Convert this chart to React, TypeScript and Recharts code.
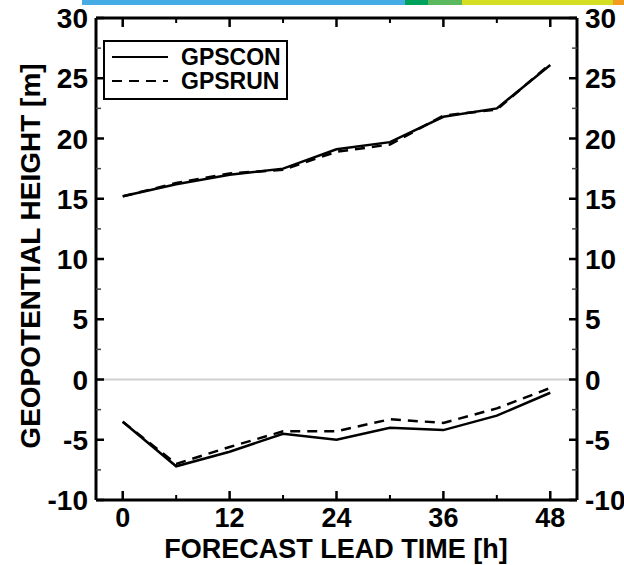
import { LineChart, Line, XAxis, YAxis, ReferenceLine } from "recharts";

const leadTimes = [0, 6, 12, 18, 24, 30, 36, 42, 48];
const gpsconUpper = [15.2, 16.2, 17.0, 17.5, 19.1, 19.7, 21.8, 22.5, 26.1];
const gpsrunUpper = [15.2, 16.3, 17.1, 17.4, 18.9, 19.5, 21.9, 22.4, 26.2];
const gpsconLower = [-3.5, -7.2, -6.0, -4.5, -5.0, -4.0, -4.2, -3.0, -1.1];
const gpsrunLower = [-3.5, -7.0, -5.6, -4.3, -4.3, -3.3, -3.6, -2.4, -0.7];
const xTicks = [0, 6, 12, 18, 24, 30, 36, 42, 48];
const yTicks = [-10, -7.5, -5, -2.5, 0, 2.5, 5, 7.5, 10, 12.5, 15, 17.5, 20, 22.5, 25, 27.5, 30];
const seriesNames = ["GPSCON", "GPSRUN"];

const data = leadTimes.map((t, i) => ({
  t,
  conUp: gpsconUpper[i],
  runUp: gpsrunUpper[i],
  conLo: gpsconLower[i],
  runLo: gpsrunLower[i],
}));

const FONT = "'Liberation Sans', Arial, Helvetica, sans-serif";

const XTick = (props: any) => {
  const { x, y, payload, top } = props;
  const major = payload.value % 12 === 0;
  const len = major ? 9 : 5;
  return (
    <g>
      <line x1={x} x2={x} y1={y} y2={top ? y + len : y - len} stroke="#000" strokeWidth={major ? 2.5 : 2} />
      {!top && major && (
        <text x={x} y={y + 27} textAnchor="middle" fontFamily={FONT} fontWeight="bold" fontSize={27} fill="#000">
          {payload.value}
        </text>
      )}
    </g>
  );
};

const YTick = (props: any) => {
  const { x, y, payload, right } = props;
  const major = payload.value % 5 === 0;
  const len = major ? 8 : 5;
  return (
    <g>
      <line x1={x} x2={right ? x - len : x + len} y1={y} y2={y} stroke={major ? "#000" : "#444"} strokeWidth={major ? 2.5 : 1.5} />
      {major && (
        <text
          x={right ? x + 8 : x - 8}
          y={y + 10}
          textAnchor={right ? "start" : "end"}
          fontFamily={FONT}
          fontWeight="bold"
          fontSize={28}
          fill="#000"
        >
          {payload.value}
        </text>
      )}
    </g>
  );
};

const LegendBox = () => (
  <div
    style={{
      position: "absolute",
      left: 103,
      top: 40,
      width: 181,
      height: 53,
      border: "2px solid #000",
      background: "#fff",
      fontFamily: FONT,
      fontWeight: "bold",
      fontSize: 23,
      lineHeight: "24px",
      paddingTop: 3,
    }}
  >
    {seriesNames.map((name, i) => (
      <div key={name} style={{ display: "flex", alignItems: "center", height: 24 }}>
        <svg width={76} height={24}>
          <line x1={7} x2={63} y1={12} y2={12} stroke="#000" strokeWidth={2} strokeDasharray={i === 1 ? "10 7" : undefined} />
        </svg>
        <span>{name}</span>
      </div>
    ))}
  </div>
);

const axisLine = { stroke: "#000", strokeWidth: 3 };

export default function App() {
  return (
    <div style={{ position: "absolute", left: 0, top: 0, width: 624, height: 565, background: "#fff" }}>
      <div
        style={{
          position: "absolute",
          left: 82,
          top: 0,
          width: 542,
          height: 5,
          background:
            "linear-gradient(to right, #45ade3 0px, #45ade3 323px, #00a15a 323px, #00a15a 346px, #5cb85c 346px, #5cb85c 380px, #d6de23 380px, #d6de23 531px, #f39a21 531px)",
        }}
      />
      <LineChart
        width={624}
        height={565}
        data={data}
        margin={{ top: 17, right: 46, bottom: 64, left: 95 }}
        style={{ position: "absolute", left: 0, top: 0 }}
      >
        <XAxis
          dataKey="t"
          type="number"
          domain={[-3, 51]}
          ticks={xTicks}
          height={1}
          tickSize={0}
          tickMargin={0}
          tickLine={false}
          axisLine={axisLine}
          tick={<XTick />}
          interval={0}
          allowDataOverflow
        />
        <XAxis
          xAxisId="top"
          orientation="top"
          dataKey="t"
          type="number"
          domain={[-3, 51]}
          ticks={xTicks}
          height={1}
          tickSize={0}
          tickMargin={0}
          tickLine={false}
          axisLine={axisLine}
          tick={<XTick top />}
          interval={0}
          allowDataOverflow
        />
        <YAxis
          type="number"
          domain={[-10, 30]}
          ticks={yTicks}
          width={1}
          tickSize={0}
          tickMargin={0}
          tickLine={false}
          axisLine={axisLine}
          tick={<YTick />}
          interval={0}
          allowDataOverflow
        />
        <YAxis
          yAxisId="right"
          orientation="right"
          type="number"
          domain={[-10, 30]}
          ticks={yTicks}
          width={1}
          tickSize={0}
          tickMargin={0}
          tickLine={false}
          axisLine={axisLine}
          tick={<YTick right />}
          interval={0}
          allowDataOverflow
        />
        <ReferenceLine y={0} stroke="#d0d0d0" strokeWidth={2} />
        <Line dataKey="conUp" stroke="#000" strokeWidth={2.5} dot={false} isAnimationActive={false} />
        <Line dataKey="runUp" stroke="#000" strokeWidth={2.5} strokeDasharray="10 7" dot={false} isAnimationActive={false} />
        <Line dataKey="conLo" stroke="#000" strokeWidth={2.5} dot={false} isAnimationActive={false} />
        <Line dataKey="runLo" stroke="#000" strokeWidth={2.5} strokeDasharray="10 7" dot={false} isAnimationActive={false} />
      </LineChart>
      <LegendBox />
      <svg width={624} height={565} style={{ position: "absolute", left: 0, top: 0, pointerEvents: "none" }}>
        <text x={336} y={558} textAnchor="middle" fontFamily={FONT} fontWeight="bold" fontSize={27} fill="#000">
          FORECAST LEAD TIME [h]
        </text>
        <text
          x={40}
          y={256}
          transform="rotate(-90 40 256)"
          textAnchor="middle"
          fontFamily={FONT}
          fontWeight="bold"
          fontSize={28}
          fill="#000"
        >
          GEOPOTENTIAL HEIGHT [m]
        </text>
      </svg>
    </div>
  );
}
